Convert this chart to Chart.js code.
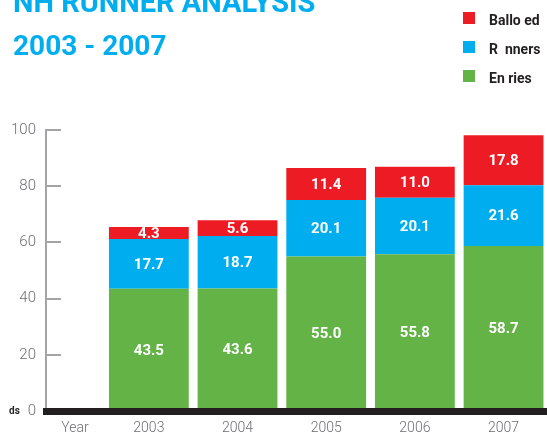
<!DOCTYPE html>
<html>
<head>
<meta charset="utf-8">
<title>NH Runner Analysis 2003 - 2007</title>
<script src="https://cdn.jsdelivr.net/npm/chart.js@4.4.1/dist/chart.umd.min.js"></script>
<style>
  html, body { margin: 0; padding: 0; background: #fff; overflow: hidden; }
  #chart { display: block; }
</style>
</head>
<body>
<canvas id="chart" width="547" height="435"></canvas>
<script>
// Data
var years = [2003, 2004, 2005, 2006, 2007];
var entries = [43.5, 43.6, 55.0, 55.8, 58.7];
var runners = [17.7, 18.7, 20.1, 20.1, 21.6];
var balloted = [4.3, 5.6, 11.4, 11.0, 17.8];
var yTicks = [0, 20, 40, 60, 80, 100];
var seriesNames = ['En ries', 'R  nners', 'Ballo ed'];

var BLUE = '#00aeef', RED = '#ed1c24', GREEN = '#63b346';
var INK = '#231f20', GREY = '#6d6e71', AXIS = '#a2a4a7';
var TICK_FONT = { family: 'Roboto', size: 14, weight: '300' };

function points(values) {
    return values.map(function (v, i) { return { x: years[i], y: v }; });
}

// Title, legend, axis caption and the clipped side caption
var headerPlugin = {
    id: 'header',
    afterDraw: function (chart) {
        var ctx = chart.ctx;
        ctx.save();
        ctx.fillStyle = BLUE;
        ctx.textAlign = 'left';
        ctx.textBaseline = 'alphabetic';
        ctx.font = '700 29px Roboto';
        ctx.fillText('NH RUNNER ANALYSIS', 13, 12);
        ctx.font = '700 28px Roboto';
        ctx.fillText('2003 - 2007', 13, 55);

        // legend, top entry is the top of the stack
        var sets = chart.data.datasets.slice().reverse();
        ctx.font = '700 14px Roboto';
        sets.forEach(function (ds, i) {
            var y = 12 + i * 29;
            ctx.fillStyle = ds.backgroundColor;
            ctx.fillRect(463, y, 12, 12);
            ctx.fillStyle = INK;
            ctx.fillText(ds.label, 489, y + 13);
        });

        ctx.font = '700 10px Roboto';
        ctx.fillText('ds', 9, 414);

        // "Year" sits under the empty slot left of the first bar
        ctx.fillStyle = GREY;
        ctx.font = TICK_FONT.weight + ' ' + TICK_FONT.size + 'px ' + TICK_FONT.family;
        ctx.textAlign = 'center';
        ctx.textBaseline = 'middle';
        ctx.fillText('Year', 75, 428);
        ctx.restore();
    }
};

// Short tick marks inside the plot, off the y axis line
var tickMarks = {
    id: 'tickMarks',
    afterDatasetsDraw: function (chart) {
        var ctx = chart.ctx, y = chart.scales.y, left = chart.chartArea.left;
        ctx.save();
        ctx.strokeStyle = AXIS;
        ctx.lineWidth = 2;
        yTicks.forEach(function (v) {
            if (v === 0) return;
            var py = Math.round(y.getPixelForValue(v));
            ctx.beginPath();
            ctx.moveTo(left, py);
            ctx.lineTo(left + 15, py);
            ctx.stroke();
        });
        ctx.restore();
    }
};

// Value printed in the middle of each segment
var valueLabels = {
    id: 'valueLabels',
    afterDatasetsDraw: function (chart) {
        var ctx = chart.ctx;
        ctx.save();
        ctx.fillStyle = '#ffffff';
        ctx.font = '700 15px Roboto';
        ctx.textAlign = 'center';
        ctx.textBaseline = 'middle';
        chart.data.datasets.forEach(function (ds, di) {
            chart.getDatasetMeta(di).data.forEach(function (bar, i) {
                ctx.fillText(ds.data[i].y.toFixed(1), bar.x, (bar.y + bar.base) / 2 + 1);
            });
        });
        ctx.restore();
    }
};

new Chart(document.getElementById('chart'), {
    type: 'bar',
    data: {
        datasets: [
            { label: seriesNames[0], data: points(entries), backgroundColor: GREEN },
            { label: seriesNames[1], data: points(runners), backgroundColor: BLUE },
            { label: seriesNames[2], data: points(balloted), backgroundColor: RED }
        ]
    },
    options: {
        responsive: false,
        animation: false,
        layout: { padding: { top: 130, left: 0, right: 0, bottom: 0 } },
        categoryPercentage: 0.9,
        barPercentage: 1,
        plugins: {
            legend: { display: false },
            tooltip: { enabled: false }
        },
        scales: {
            x: {
                type: 'linear',
                stacked: true,
                offset: false,
                min: 2001.84,
                max: 2007.49,
                grid: { display: false, drawTicks: false },
                border: { display: true, color: INK, width: 7, z: 1 },
                afterBuildTicks: function (scale) {
                    scale.ticks = years.map(function (y) { return { value: y }; });
                },
                afterFit: function (scale) { scale.height = 24; },
                ticks: {
                    color: GREY,
                    font: TICK_FONT,
                    padding: 9,
                    maxRotation: 0,
                    autoSkip: false,
                    callback: function (v) { return String(v); }
                }
            },
            y: {
                stacked: true,
                min: 0,
                max: 100,
                grid: { display: false, drawTicks: false },
                border: { display: true, color: AXIS, width: 2 },
                afterBuildTicks: function (scale) {
                    scale.ticks = yTicks.map(function (v) { return { value: v }; });
                },
                afterFit: function (scale) { scale.width = 46; },
                ticks: {
                    color: GREY,
                    font: { family: 'Roboto', size: 15, weight: '300' },
                    padding: 10
                }
            }
        }
    },
    plugins: [tickMarks, valueLabels, headerPlugin]
});
</script>
</body>
</html>
